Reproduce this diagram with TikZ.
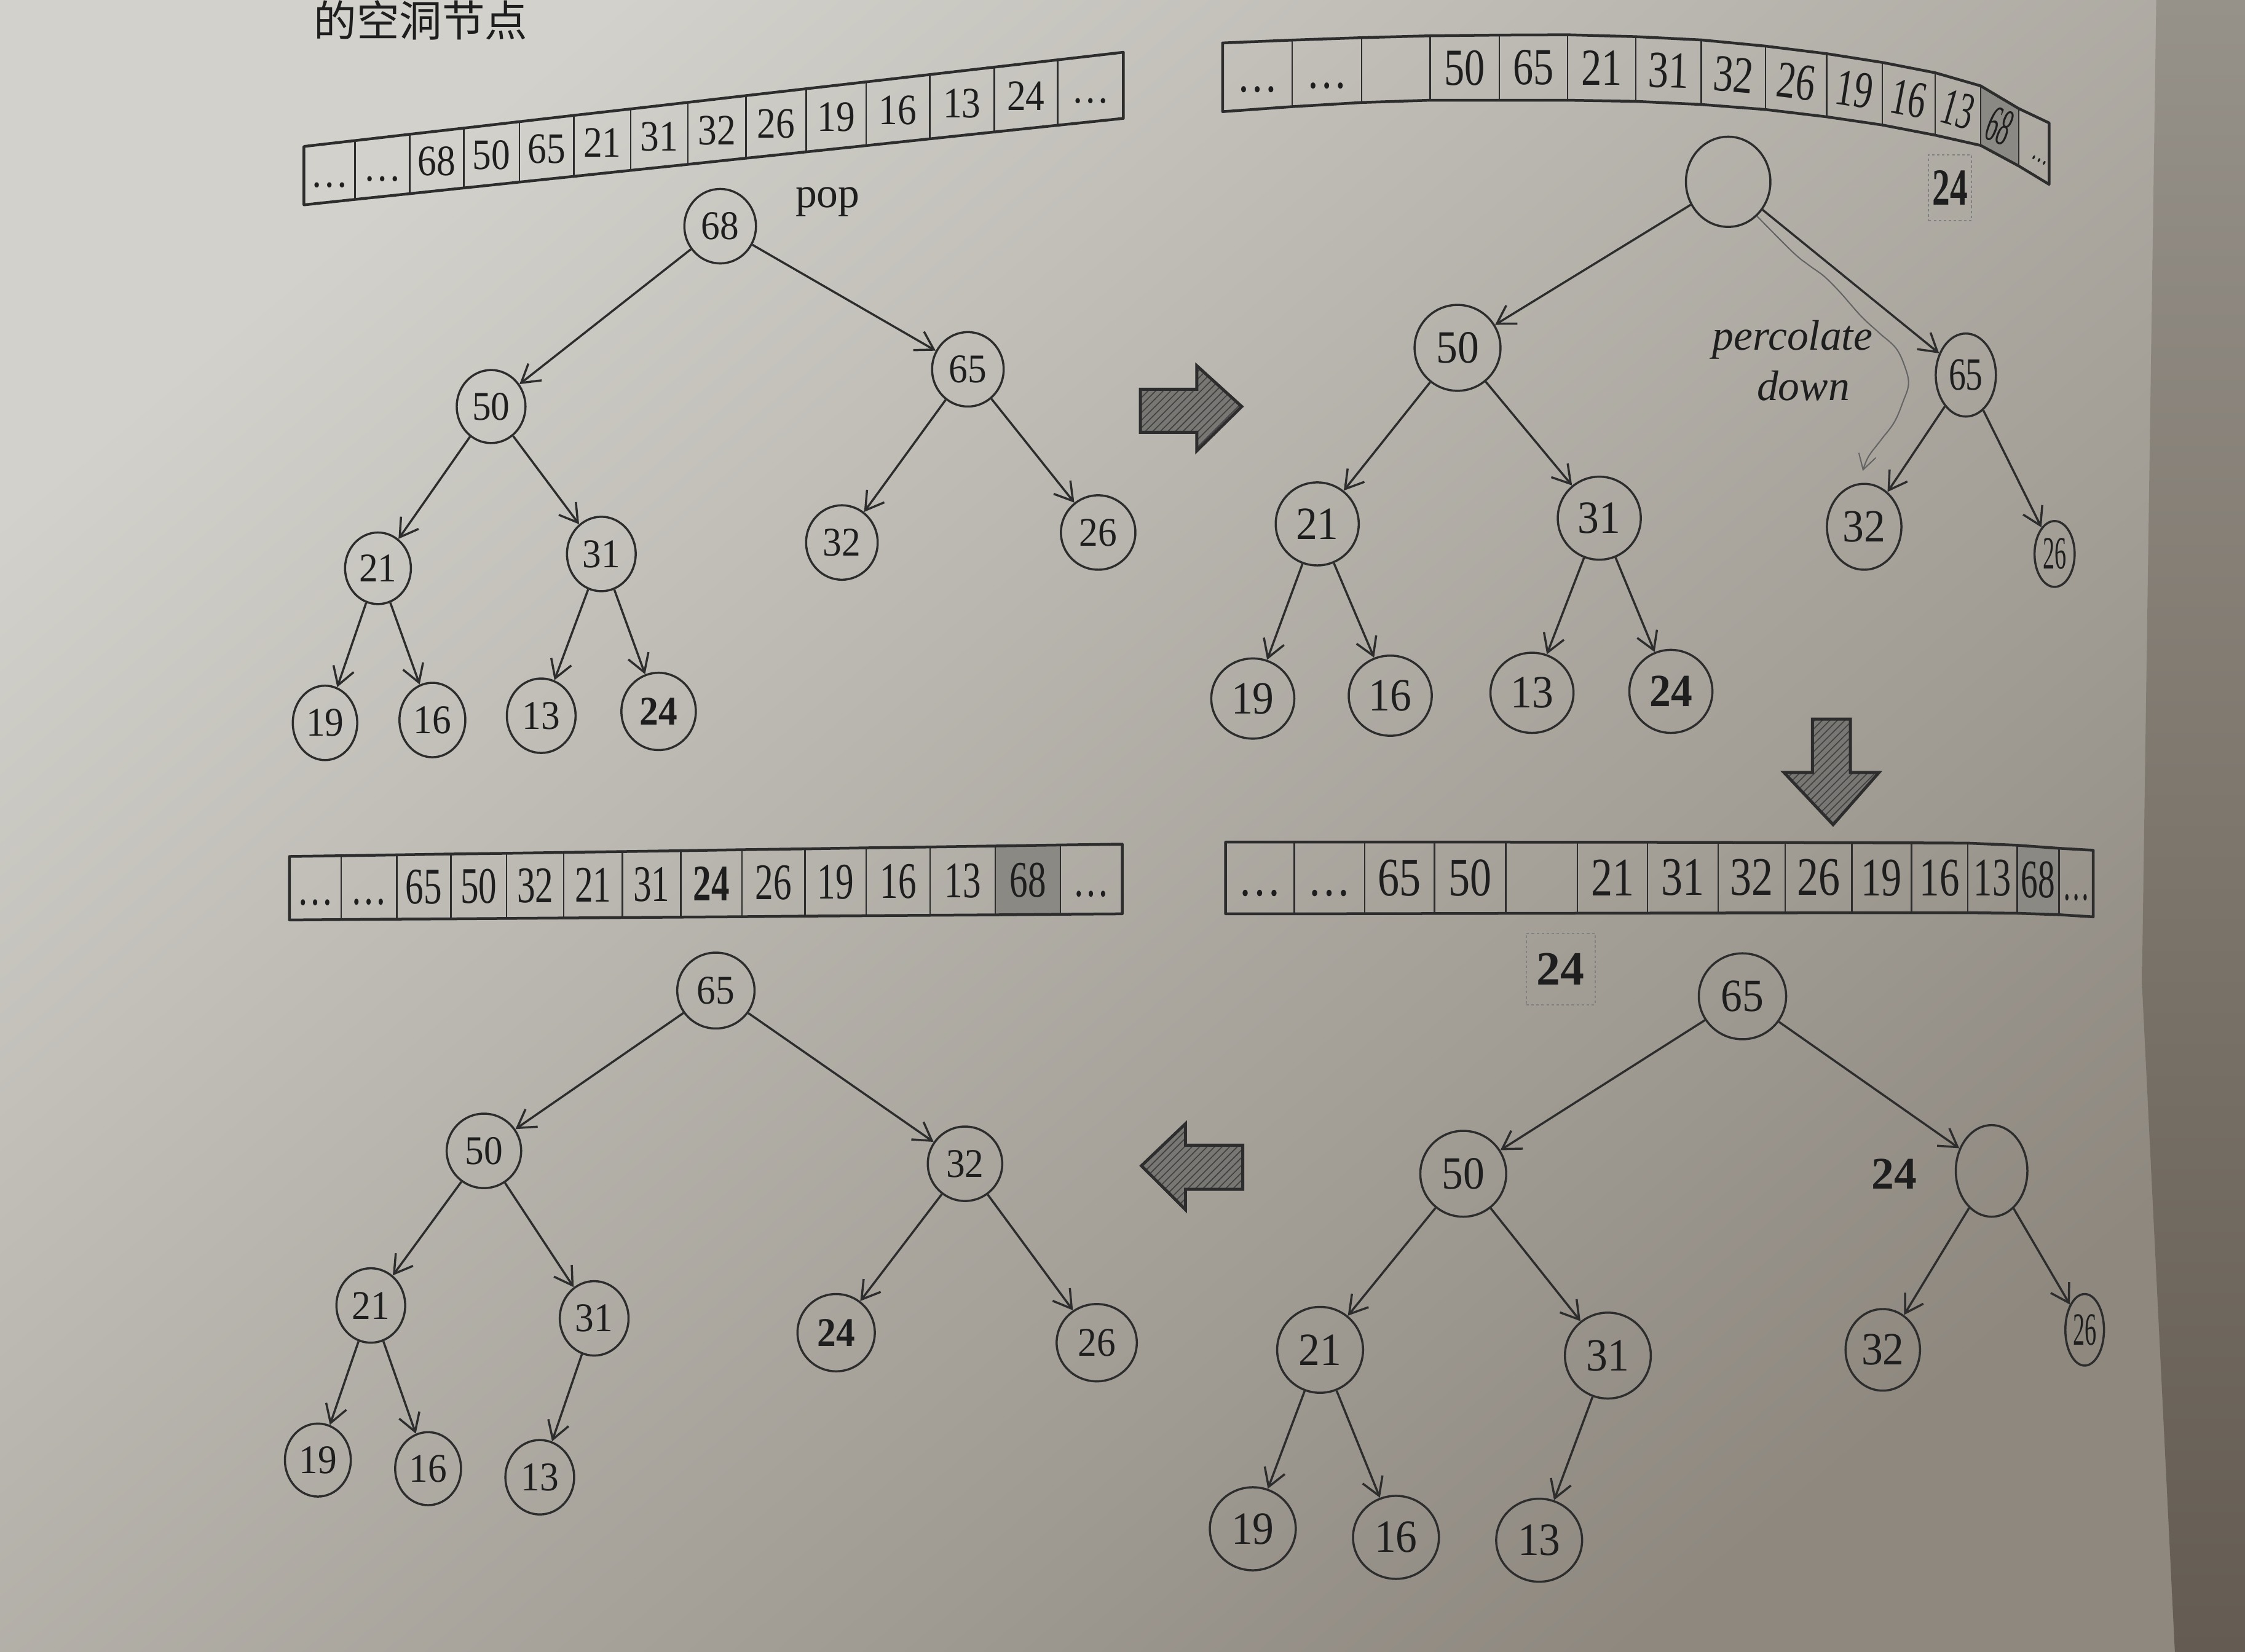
\documentclass[tikz,border=0pt]{standalone}
\usepackage{fontspec}
\usepackage{graphicx}
\setmainfont{Liberation Serif}
\newfontfamily\cjkfont{Noto Sans CJK SC}
\usetikzlibrary{shapes.geometric,arrows.meta,patterns,calc}
\definecolor{paperA}{RGB}{210,209,203}
\definecolor{paperB}{RGB}{142,136,127}
\definecolor{stripA}{RGB}{150,145,137}
\definecolor{stripB}{RGB}{100,92,82}
\definecolor{lc}{RGB}{45,45,45}
\definecolor{tc}{RGB}{30,30,30}
\definecolor{cellshade}{RGB}{138,137,132}
\definecolor{arrfill}{RGB}{120,119,115}
\definecolor{hatch}{RGB}{65,65,65}
\definecolor{wavyc}{RGB}{100,100,100}
\newcommand\dd{\char"2026}
\newcommand\tn[7][1]{\node[nd,minimum width=#5*0.02cm,minimum height=#6*0.02cm] (#2) at (#3,#4) {\scalebox{#1}[1.08]{#7}};}
\begin{document}
\begin{tikzpicture}[x=0.02cm,y=-0.02cm,
 nd/.style={ellipse,draw=lc,line width=0.85pt,inner sep=0pt,text=tc},
 edge/.style={draw=lc,line width=0.85pt,-{Straight Barb[length=7pt,width=8.5pt]}},
 sep/.style={draw=lc,line width=0.6pt},
 outer/.style={draw=lc,line width=1.1pt,line join=round},
 celltxt/.style={inner sep=0pt,text=tc},
 dbox/.style={draw=lc!60,dash pattern=on 1pt off 1pt,line width=0.5pt,inner sep=0pt,text=tc},
 blockarrow/.style={draw=lc,line width=1.2pt,line join=miter,preaction={fill=arrfill},pattern=north east lines,pattern color=hatch},
]
% background
\shade[top color=paperA,bottom color=paperB,shading angle=40] (0,0) rectangle (1568,1154);
\useasboundingbox (0,0) rectangle (1568,1154);
\shade[top color=stripA,bottom color=stripB] (1506,0) -- (1568,0) -- (1568,1154) -- (1519,1154) -- (1496,687) -- cycle;

\node[text=tc,font=\cjkfont\fontsize{17}{17}\selectfont,anchor=west] (cn) at (213,14) {的空洞节点};

% ---------- top-left array ----------
\foreach \x/\t/\b [count=\i] in {212.3/102.3/143.1, 248.0/98.2/139.3, 286.1/93.8/135.3, 323.9/89.5/131.3, 362.7/85.0/127.2, 400.8/80.6/123.2, 440.5/76.1/119.0, 480.5/71.5/114.8, 521.0/66.8/110.5, 563.0/62.0/106.1, 604.9/57.2/101.7, 649.3/52.1/97.0, 694.4/46.9/92.2, 738.7/41.8/87.5, 784.6/36.5/82.7}
 {\coordinate (tl-\i-t) at (\x,\t); \coordinate (tl-\i-b) at (\x,\b);}
\foreach \i in {2,...,14} \draw[sep] (tl-\i-t) -- (tl-\i-b);
\draw[outer] (tl-1-t) \foreach \i in {2,...,15}{ -- (tl-\i-t)} -- (tl-15-b) \foreach \i in {14,...,1}{ -- (tl-\i-b)} -- cycle;
\begin{scope}[every node/.append style={font=\fontsize{15}{15}\selectfont}]
\foreach \i/\t/\r/\s [evaluate=\i as \j using int(\i+1)] in {1/\dd/0/1, 2/\dd/0/1, 3/68/0/1, 4/50/0/1, 5/65/0/1, 6/21/0/1, 7/31/0/1, 8/32/0/1, 9/26/0/1, 10/19/0/1, 11/16/0/1, 12/13/0/1, 13/24/0/1, 14/\dd/0/1}
 \node[celltxt,rotate=\r] (tl-c\i) at ($(tl-\i-t)!0.5!(tl-\j-b)$) {\scalebox{\s}[1.15]{\vphantom{0}\t}};
\end{scope}

% ---------- top-right array ----------
\foreach \x/\t/\b [count=\i] in {853.9/30/78, 902.5/28/74.5, 951.1/26.3/71.6, 998.9/25/70, 1047.1/24.5/70, 1094.9/24.3/70, 1142.4/25.6/70.8, 1188.3/27.9/73, 1233.0/32.2/76.5, 1275.8/37.5/81.6, 1314.6/43.6/87.3, 1351.5/50.8/94.4, 1383.4/60/101.6, 1409.9/75.8/115.9, 1431.2/85.9/128.8}
 {\coordinate (tr-\i-t) at (\x,\t); \coordinate (tr-\i-b) at (\x,\b);}
\fill[cellshade] (tr-13-t) -- (tr-14-t) -- (tr-14-b) -- (tr-13-b) -- cycle;
\foreach \i in {2,...,14} \draw[sep] (tr-\i-t) -- (tr-\i-b);
\draw[outer] (tr-1-t) \foreach \i in {2,...,15}{ -- (tr-\i-t)} -- (tr-15-b) \foreach \i in {14,...,1}{ -- (tr-\i-b)} -- cycle;
\begin{scope}[every node/.append style={font=\fontsize{18}{18}\selectfont}]
\foreach \i/\t/\r/\s [evaluate=\i as \j using int(\i+1)] in {1/\dd/0/0.9, 2/\dd/0/0.9, 3/{}/0/0.9, 4/50/0/0.9, 5/65/0/0.9, 6/21/0/0.9, 7/31/-2/0.9, 8/32/-5/0.88, 9/26/-7/0.85, 10/19/-9/0.82, 11/16/-11/0.78, 12/13/-16/0.7, 13/68/-22/0.52}
 \node[celltxt,rotate=\r] (tr-c\i) at ($(tr-\i-t)!0.5!(tr-\j-b)$) {\scalebox{\s}[1.15]{\vphantom{0}\t}};
\node[celltxt,rotate=-28,font=\fontsize{14}{14}\selectfont] (tr-c14) at ($(tr-14-t)!0.68!(tr-15-b)$) {\scalebox{0.5}[1]{\dd}};
\end{scope}

% ---------- bottom-left array ----------
\foreach \x/\t/\b [count=\i] in {202.2/598.3/642.7, 238.3/597.8/642.4, 277.2/597.2/642.1, 314.9/596.6/641.9, 353.8/596.1/641.6, 393.8/595.5/641.3, 434.7/594.9/641.0, 475.5/594.3/640.7, 518.3/593.6/640.4, 562.2/593.0/640.0, 605.0/592.3/639.7, 649.7/591.7/639.4, 695.2/591.0/639.1, 740.7/590.3/638.7, 783.8/589.7/638.4}
 {\coordinate (bl-\i-t) at (\x,\t); \coordinate (bl-\i-b) at (\x,\b);}
\fill[cellshade] (bl-13-t) -- (bl-14-t) -- (bl-14-b) -- (bl-13-b) -- cycle;
\foreach \i in {2,...,14} \draw[sep] (bl-\i-t) -- (bl-\i-b);
\draw[outer] (bl-1-t) \foreach \i in {2,...,15}{ -- (bl-\i-t)} -- (bl-15-b) \foreach \i in {14,...,1}{ -- (bl-\i-b)} -- cycle;
\begin{scope}[every node/.append style={font=\fontsize{17}{17}\selectfont}]
\foreach \i/\t/\r/\s [evaluate=\i as \j using int(\i+1)] in {1/\dd/0/0.85, 2/\dd/0/0.85, 3/65/0/0.85, 4/50/0/0.85, 5/32/0/0.85, 6/21/0/0.85, 7/31/0/0.85, 8/\textbf{24}/0/0.85, 9/26/0/0.85, 10/19/0/0.85, 11/16/0/0.85, 12/13/0/0.85, 13/68/0/0.85, 14/\dd/0/0.85}
 \node[celltxt,rotate=\r] (bl-c\i) at ($(bl-\i-t)!0.5!(bl-\j-b)$) {\scalebox{\s}[1.2]{\vphantom{0}\t}};
\end{scope}

% ---------- bottom-right array ----------
\foreach \x/\t/\b [count=\i] in {856.0/588.3/638.4, 903.9/588.3/638.4, 953.2/588.3/638.3, 1001.8/588.3/638.2, 1051.6/588.3/638.1, 1101.8/588.4/638.0, 1150.7/588.4/637.9, 1200.1/588.5/637.8, 1246.8/588.6/637.7, 1293.4/588.7/637.6, 1335.0/588.8/637.6, 1374.3/589.0/637.6, 1408.9/590.5/638.0, 1438.1/592.6/639.0, 1462.0/594.0/640.5}
 {\coordinate (br-\i-t) at (\x,\t); \coordinate (br-\i-b) at (\x,\b);}
\fill[cellshade] (br-13-t) -- (br-14-t) -- (br-14-b) -- (br-13-b) -- cycle;
\foreach \i in {2,...,14} \draw[sep] (br-\i-t) -- (br-\i-b);
\draw[outer] (br-1-t) \foreach \i in {2,...,15}{ -- (br-\i-t)} -- (br-15-b) \foreach \i in {14,...,1}{ -- (br-\i-b)} -- cycle;
\begin{scope}[every node/.append style={font=\fontsize{18}{18}\selectfont}]
\foreach \i/\t/\r/\s [evaluate=\i as \j using int(\i+1)] in {1/\dd/0/0.95, 2/\dd/0/0.95, 3/65/0/0.95, 4/50/0/0.95, 5/{}/0/0.95, 6/21/0/0.95, 7/31/0/0.95, 8/32/0/0.95, 9/26/0/0.95, 10/19/0/0.9, 11/16/0/0.88, 12/13/0/0.82, 13/68/0/0.75, 14/\dd/0/0.6}
 \node[celltxt,rotate=\r] (br-c\i) at ($(br-\i-t)!0.5!(br-\j-b)$) {\scalebox{\s}[1.2]{\vphantom{0}\t}};
\end{scope}

% ---------- tree A ----------
\begin{scope}[every node/.append style={font=\fontsize{15}{15}\selectfont}]
\tn{a68}{503}{158}{50}{52}{68}
\tn{a50}{343}{284}{48}{51}{50}
\tn{a65}{676}{258}{50}{52}{65}
\tn{a21}{264}{397}{46}{50}{21}
\tn{a31}{420}{387}{48}{52}{31}
\tn{a32}{588}{379}{50}{52}{32}
\tn{a26}{767}{372}{52}{52}{26}
\tn{a19}{227}{505}{45}{52}{19}
\tn{a16}{302}{503}{46}{52}{16}
\tn{a13}{378}{500}{48}{52}{13}
\tn{a24}{460}{497}{52}{54}{\textbf{24}}
\end{scope}
\node[text=tc,font=\fontsize{17}{17}\selectfont] (pop) at (578,141) {pop};

% ---------- tree B ----------
\begin{scope}[every node/.append style={font=\fontsize{17}{17}\selectfont}]
\tn{rB}{1207}{127}{59}{63}{}
\tn{b50}{1018}{243}{60}{60}{50}
\tn[0.8]{b65}{1373}{262}{42}{58}{65}
\tn{b21}{920}{366}{58}{58}{21}
\tn{b31}{1117}{362}{58}{58}{31}
\tn{b32}{1302}{368}{52}{60}{32}
\tn[0.55]{b26}{1435}{387}{28}{46}{26}
\tn{b19}{875}{488}{58}{56}{19}
\tn{b16}{971}{486}{58}{56}{16}
\tn{b13}{1070}{484}{58}{56}{13}
\tn{b24}{1167}{483}{58}{58}{\textbf{24}}
\end{scope}
\node[dbox,minimum width=30*0.02cm,minimum height=46*0.02cm,font=\bfseries\fontsize{18}{18}\selectfont] (bx1) at (1362,131) {\scalebox{0.78}[1.15]{24}};
\node[text=tc,font=\itshape\fontsize{17}{20}\selectfont,align=center] (perc) at (1252,252) {percolate\\\hspace*{0.5em}down};
\coordinate (pdEnd) at (1301,329);
\draw[wavyc,line width=0.5pt,-{Straight Barb[length=6pt,width=7pt]}] plot[smooth,tension=0.6] coordinates {(rB.-50) (1252,176) (1263,185) (1274,193) (1285,204) (1300,221) (1313,233) (1324,243) (1330,255) (1333,268) (1329,281) (1323,295) (1314,307) (1305,319) (pdEnd)};

% ---------- tree C ----------
\begin{scope}[every node/.append style={font=\fontsize{15}{15}\selectfont}]
\tn{c65}{500}{692}{54}{53}{65}
\tn{c50}{338}{804}{52}{52}{50}
\tn{c32}{674}{813}{52}{52}{32}
\tn{c21}{259}{912}{48}{52}{21}
\tn{c31}{415}{921}{48}{52}{31}
\tn{c24}{584}{931}{54}{54}{\textbf{24}}
\tn{c26}{766}{938}{56}{54}{26}
\tn{c19}{222}{1020}{46}{51}{19}
\tn{c16}{299}{1026}{46}{51}{16}
\tn{c13}{377}{1032}{48}{52}{13}
\end{scope}

% ---------- tree D ----------
\begin{scope}[every node/.append style={font=\fontsize{17}{17}\selectfont}]
\tn{d65}{1217}{696}{61}{60}{65}
\tn{d50}{1022}{820}{60}{60}{50}
\tn{dE}{1391}{818}{50}{64}{}
\tn{d21}{922}{943}{60}{60}{21}
\tn{d31}{1123}{947}{60}{60}{31}
\tn{d32}{1315}{943}{52}{57}{32}
\tn[0.55]{d26}{1456}{929}{27}{50}{26}
\tn{d19}{875}{1068}{60}{58}{19}
\tn{d16}{975}{1074}{60}{58}{16}
\tn{d13}{1075}{1076}{60}{58}{13}
\end{scope}
\node[text=tc,font=\bfseries\fontsize{18}{18}\selectfont] (d24) at (1323,820) {24};
\node[dbox,minimum width=48*0.02cm,minimum height=50*0.02cm,font=\bfseries\fontsize{19}{19}\selectfont] (bx2) at (1090,677) {24};

% ---------- edges ----------
\foreach \p/\c in {a68/a50,a68/a65,a50/a21,a50/a31,a65/a32,a65/a26,a21/a19,a21/a16,a31/a13,a31/a24,
  rB/b50,rB/b65,b50/b21,b50/b31,b65/b32,b65/b26,b21/b19,b21/b16,b31/b13,b31/b24,
  c65/c50,c65/c32,c50/c21,c50/c31,c32/c24,c32/c26,c21/c19,c21/c16,c31/c13,
  d65/d50,d65/dE,d50/d21,d50/d31,dE/d32,dE/d26,d21/d19,d21/d16,d31/d13}
  \draw[edge] (\p) -- (\c);

% ---------- block arrows ----------
\draw[blockarrow] (796.5,271.9) -- (835.9,271.9) -- (835.9,255.5) -- (867.3,284) -- (835.9,314.9) -- (835.9,302) -- (796.5,302) -- cycle;
\draw[blockarrow] (1265.9,502.4) -- (1292.4,502.4) -- (1292.4,539.6) -- (1312.4,539.6) -- (1280.3,576.1) -- (1245.9,539.6) -- (1265.9,539.6) -- cycle;
\draw[blockarrow] (797.2,814.4) -- (828,785) -- (828,800) -- (868,800) -- (868,830.8) -- (828,830.8) -- (828,845.1) -- cycle;
\end{tikzpicture}
\end{document}
